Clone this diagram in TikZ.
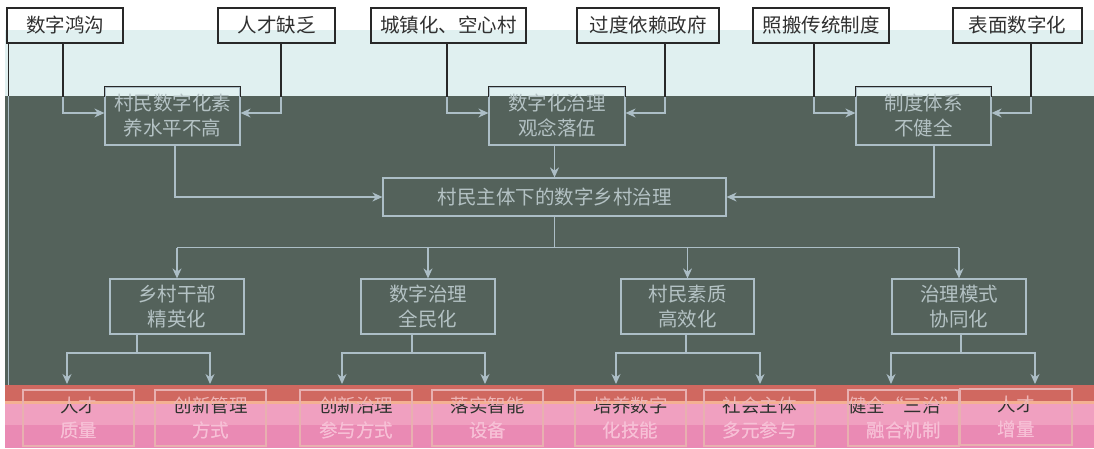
\documentclass[tikz,border=0pt]{standalone}
\usepackage{fontspec}
\setmainfont{Noto Sans CJK SC}
\usetikzlibrary{arrows.meta,calc}
\definecolor{bgdark}{RGB}{84,98,91}
\definecolor{bgcyan}{RGB}{224,240,240}
\definecolor{bgred}{RGB}{208,104,96}
\definecolor{bgpink}{RGB}{240,160,192}
\definecolor{bgpinkb}{RGB}{234,138,180}
\definecolor{peach}{RGB}{244,176,146}
\definecolor{lineL}{RGB}{172,190,198}
\definecolor{textL}{RGB}{180,194,196}
\definecolor{lineD}{RGB}{40,40,40}
\definecolor{textD}{RGB}{48,48,48}
\definecolor{boxP}{RGB}{232,176,176}
\definecolor{textP}{RGB}{247,192,214}
\definecolor{textR}{RGB}{238,182,182}
\newcommand\bottomrow[2]{%
  \node[fourbox, minimum width=111pt] (b1) at (78.5,418) {\textcolor{#1}{人才}\\\textcolor{#2}{质量}};
  \node[fourbox, minimum width=111pt] (b2) at (210.5,418) {\textcolor{#1}{创新管理}\\\textcolor{#2}{方式}};
  \node[fourbox, minimum width=112pt] (b3) at (356,418) {\textcolor{#1}{创新治理}\\\textcolor{#2}{参与方式}};
  \node[fourbox, minimum width=111pt] (b4) at (487.5,418) {\textcolor{#1}{落实智能}\\\textcolor{#2}{设备}};
  \node[fourbox, minimum width=111pt] (b5) at (630.5,418) {\textcolor{#1}{培养数字}\\\textcolor{#2}{化技能}};
  \node[fourbox, minimum width=111pt] (b6) at (759.5,418) {\textcolor{#1}{社会主体}\\\textcolor{#2}{多元参与}};
  \node[fourbox, minimum width=111pt] (b7) at (903.5,418) {\textcolor{#1}{健全“三治”}\\\textcolor{#2}{融合机制}};
  \node[fourbox, minimum width=112pt] (b8) at (1016,417) {\textcolor{#1}{人才}\\\textcolor{#2}{增量}};
}
\begin{document}
\begin{tikzpicture}[x=1pt,y=-1pt,
  box/.style={draw, line width=1.2pt, inner sep=0pt, align=center, font=\fontsize{19.5}{25}\selectfont},
  topbox/.style={box, draw=lineD, text=textD, minimum height=35pt},
  midbox/.style={box, draw=lineL, text=textL, minimum height=58pt},
  mainbox/.style={box, draw=lineL, text=textL, minimum height=38pt},
  thirdbox/.style={box, draw=lineL, text=textL, minimum height=55pt},
  fourbox/.style={box, draw=boxP, minimum height=56pt, font=\fontsize{18.5}{25}\selectfont},
  conn/.style={draw=lineL, line width=1.2pt},
  arr/.style={conn, -{Stealth[length=10pt,width=9pt]}},
  connD/.style={draw=lineD, line width=1.2pt}]
\useasboundingbox (0,0) rectangle (1094,448);
% background bands
\fill[white] (0,0) rectangle (1094,448);
\fill[bgcyan] (5,30) rectangle (1094,96);
\fill[bgdark] (5,96) rectangle (1094,385);
\fill[bgred] (5,385) rectangle (1094,402);
\fill[peach] (5,401) rectangle (1094,404);
\fill[bgpink] (5,404) rectangle (1094,425);
\fill[bgpinkb] (5,425) rectangle (1094,448);
\draw[lineD, line width=1pt] (8,43) -- (8,96);
\draw[lineL, line width=1pt] (8,96) -- (8,385);
% top causes
\node[topbox, minimum width=116pt] (t1) at (65,25.5) {数字鸿沟};
\node[topbox, minimum width=117pt] (t2) at (276.5,25.5) {人才缺乏};
\node[topbox, minimum width=155pt] (t3) at (448.5,25.5) {城镇化、空心村};
\node[topbox, minimum width=142pt] (t4) at (648,25.5) {过度依赖政府};
\node[topbox, minimum width=136pt] (t5) at (821,25.5) {照搬传统制度};
\node[topbox, minimum width=129pt] (t6) at (1017.5,25.5) {表面数字化};
% problems
\node[midbox, minimum width=135pt] (m1) at (172.5,116) {村民数字化素\\养水平不高};
\node[midbox, minimum width=136pt] (m2) at (557,116) {数字化治理\\观念落伍};
\node[midbox, minimum width=135pt] (m3) at (923.5,116) {制度体系\\不健全};
% main
\node[mainbox, minimum width=343pt] (main) at (554.5,197) {村民主体下的数字乡村治理};
% paths
\node[thirdbox, minimum width=134pt] (l1) at (177,306.5) {乡村干部\\精英化};
\node[thirdbox, minimum width=134pt] (l2) at (428,306.5) {数字治理\\全民化};
\node[thirdbox, minimum width=133pt] (l3) at (687.5,306.5) {村民素质\\高效化};
\node[thirdbox, minimum width=134pt] (l4) at (959,306.5) {治理模式\\协同化};
% connectors top -> problems
\draw[arr] ([xshift=-2pt]t1.south) |- ([yshift=3pt]m1.west);
\draw[arr] ([xshift=4.5pt]t2.south) |- ([yshift=3pt]m1.east);
\draw[arr] ([xshift=-1.5pt]t3.south) |- ([yshift=3pt]m2.west);
\draw[arr] ([xshift=17pt]t4.south) |- ([yshift=3pt]m2.east);
\draw[arr] ([xshift=-7pt]t5.south) |- ([yshift=3pt]m3.west);
\draw[arr] ([xshift=13.5pt]t6.south) |- ([yshift=3pt]m3.east);
\begin{scope}
  \clip (0,0) rectangle (1094,96);
  \draw[connD] ([xshift=-2pt]t1.south) |- ([yshift=3pt]m1.west);
  \draw[connD] ([xshift=4.5pt]t2.south) |- ([yshift=3pt]m1.east);
  \draw[connD] ([xshift=-1.5pt]t3.south) |- ([yshift=3pt]m2.west);
  \draw[connD] ([xshift=17pt]t4.south) |- ([yshift=3pt]m2.east);
  \draw[connD] ([xshift=-7pt]t5.south) |- ([yshift=3pt]m3.west);
  \draw[connD] ([xshift=13.5pt]t6.south) |- ([yshift=3pt]m3.east);
  \draw[connD] (m1.north west) rectangle (m1.south east);
  \draw[connD] (m2.north west) rectangle (m2.south east);
  \draw[connD] (m3.north west) rectangle (m3.south east);
\end{scope}
% problems -> main
\draw[arr] ([xshift=2.5pt]m1.south) |- (main.west);
\draw[arr] (main.north |- m2.south) -- (main.north);
\draw[arr] ([xshift=10.5pt]m3.south) |- (main.east);
% main -> paths
\draw[conn] (main.south) -- ++(0,31) coordinate (br);
\draw[conn] (l1.north |- br) -- (l4.north |- br);
\draw[arr] (l1.north |- br) -- (l1.north);
\draw[arr] (l2.north |- br) -- (l2.north);
\draw[arr] (l3.north |- br) -- (l3.north);
\draw[arr] (l4.north |- br) -- (l4.north);
% measures
\bottomrow{textR}{textP}
\begin{scope}
  \clip (0,404) rectangle (1094,448);
  \bottomrow{textD}{textP}
\end{scope}
\coordinate (j1) at (137,353);
\coordinate (j2) at (412,353);
\coordinate (j3) at (686,353);
\coordinate (j4) at (961,353);
\coordinate (a1) at (67,384);
\coordinate (a2) at (210,384);
\coordinate (a3) at (342,384);
\coordinate (a4) at (485,384);
\coordinate (a5) at (616,384);
\coordinate (a6) at (760,384);
\coordinate (a7) at (891,384);
\coordinate (a8) at (1035,384);
\draw[conn] (l1.south -| j1) -- (j1);
\draw[conn] (l2.south -| j2) -- (j2);
\draw[conn] (l3.south -| j3) -- (j3);
\draw[conn] (l4.south -| j4) -- (j4);
\draw[arr] (j1) -| (a1);
\draw[arr] (j1) -| (a2);
\draw[arr] (j2) -| (a3);
\draw[arr] (j2) -| (a4);
\draw[arr] (j3) -| (a5);
\draw[arr] (j3) -| (a6);
\draw[arr] (j4) -| (a7);
\draw[arr] (j4) -| (a8);
\end{tikzpicture}
\end{document}
